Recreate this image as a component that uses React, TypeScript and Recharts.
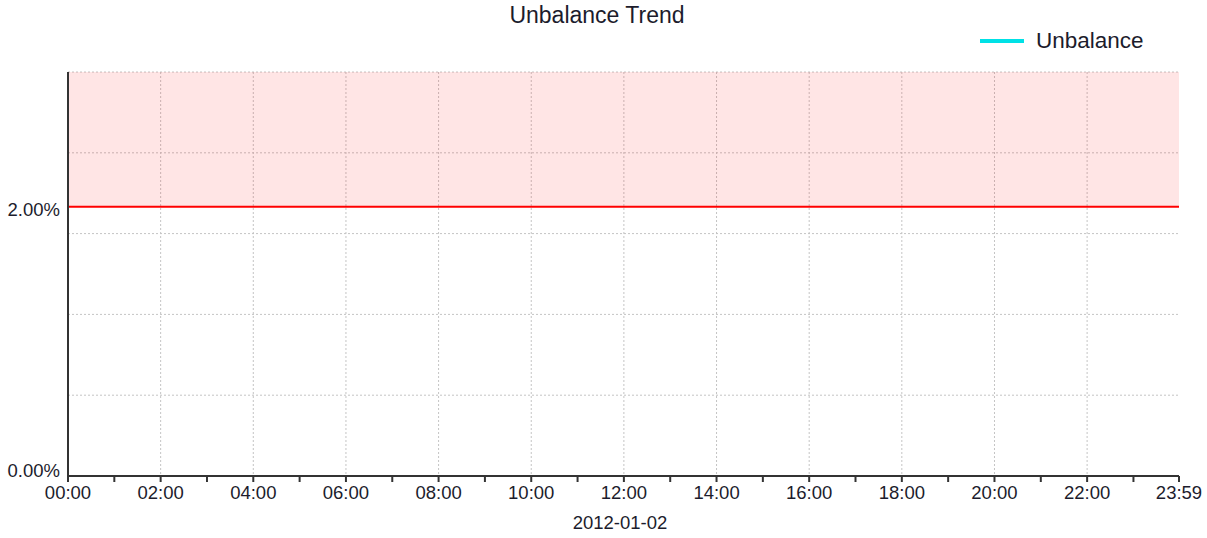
import React from 'react';
import { LineChart, Line, XAxis, YAxis, CartesianGrid, ReferenceArea, ReferenceLine } from 'recharts';

// minutes since midnight on 2012-01-02
const HOUR_TICKS = [0, 60, 120, 180, 240, 300, 360, 420, 480, 540, 600, 660, 720, 780, 840, 900, 960, 1020, 1080, 1140, 1200, 1260, 1320, 1380, 1439];
const GRID_X = [120, 240, 360, 480, 600, 720, 840, 960, 1080, 1200, 1320];
const GRID_Y = [0.6, 1.2, 1.8, 2.4, 3.0];
const Y_TICKS = [0, 2];
const THRESHOLD = 2;
const Y_MAX = 3;

// no unbalance samples recorded for the day
const SAMPLE_TIMES = [0, 1439];
const UNBALANCE: (number | null)[] = [null, null];

const FONT = '"Liberation Sans", Arial, sans-serif';
const TEXT = '#1c1c2c';

const data = SAMPLE_TIMES.map((t, i) => ({ t, unbalance: UNBALANCE[i] }));

const fmtTime = (m: number) => {
    if (m % 120 !== 0 && m !== 1439) return '';
    const h = Math.floor(m / 60);
    const mm = m % 60;
    return `${String(h).padStart(2, '0')}:${String(mm).padStart(2, '0')}`;
};

// the zero label sits a little above the axis, the 2% one a touch below its line
const YTick = (props: any) => {
    const { x, y, payload } = props;
    const shift = payload.value === 0 ? -6 : 3;
    return (
        <text x={x} y={y + shift} dy="0.355em" textAnchor="end" fill={TEXT} fontSize={18.5} fontFamily={FONT}>
            {`${Number(payload.value).toFixed(2)}%`}
        </text>
    );
};

export default function App() {
    return (
        <div style={{ position: 'absolute', left: 0, top: 0, width: 1207, height: 538, background: '#fff', fontFamily: FONT }}>
            <div style={{ position: 'absolute', left: 0, top: 2, width: 1194, textAlign: 'center', fontSize: 23, color: TEXT }}>
                Unbalance Trend
            </div>
            <div style={{ position: 'absolute', left: 980, top: 28, display: 'flex', alignItems: 'center', fontSize: 22.5, color: TEXT }}>
                <span style={{ display: 'inline-block', width: 44, height: 4, background: '#00e1e6', marginRight: 12 }} />
                <span>Unbalance</span>
            </div>
            <div style={{ position: 'absolute', left: 0, top: 512, width: 1240, textAlign: 'center', fontSize: 18.5, color: TEXT }}>
                2012-01-02
            </div>
            <LineChart width={1207} height={538} data={data} margin={{ top: 72, right: 28, bottom: 0, left: 8 }}>
                <ReferenceArea y1={THRESHOLD} y2={Y_MAX} fill="#ff0000" fillOpacity={0.1} stroke="none" ifOverflow="extendDomain" />
                <CartesianGrid stroke="#c4c4c4" strokeDasharray="2 2" horizontalValues={GRID_Y} verticalValues={GRID_X} />
                <XAxis
                    dataKey="t"
                    type="number"
                    domain={[0, 1439]}
                    allowDataOverflow
                    ticks={HOUR_TICKS}
                    interval={0}
                    tickFormatter={fmtTime}
                    height={62}
                    tickSize={6}
                    tickMargin={4}
                    axisLine={{ stroke: '#333', strokeWidth: 2 }}
                    tickLine={{ stroke: '#333', strokeWidth: 2 }}
                    tick={{ fill: TEXT, fontSize: 18.5, fontFamily: FONT }}
                />
                <YAxis
                    type="number"
                    domain={[0, Y_MAX]}
                    allowDataOverflow
                    ticks={Y_TICKS}
                    interval={0}
                    width={60}
                    tickSize={0}
                    tickMargin={8}
                    axisLine={{ stroke: '#333', strokeWidth: 2 }}
                    tick={<YTick />}
                />
                <ReferenceLine y={THRESHOLD} stroke="#ff0000" strokeWidth={2} ifOverflow="extendDomain" />
                <Line type="linear" dataKey="unbalance" stroke="#00e1e6" strokeWidth={3} dot={false} connectNulls={false} isAnimationActive={false} />
            </LineChart>
        </div>
    );
}
